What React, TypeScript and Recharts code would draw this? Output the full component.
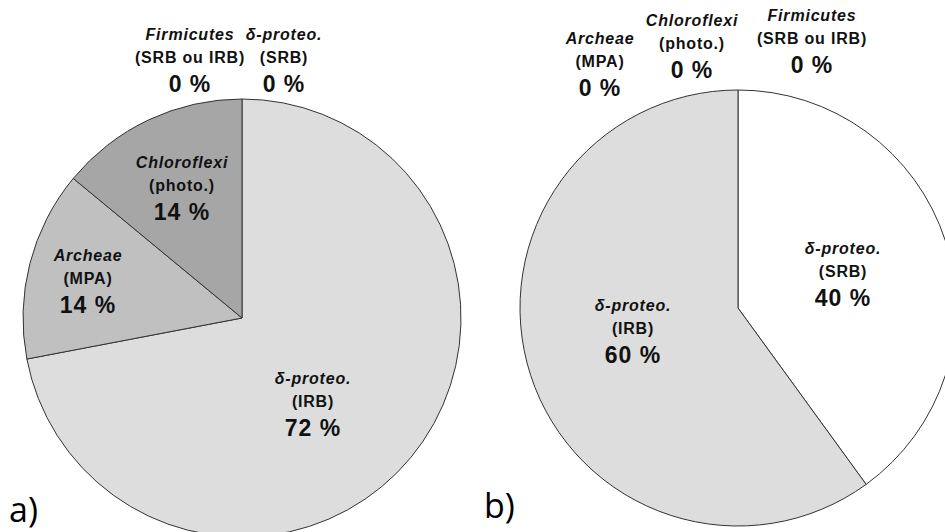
import { PieChart, Pie, Cell } from 'recharts'

// panel a)
const namesA = ['δ-proteo.', 'Archeae', 'Chloroflexi', 'Firmicutes', 'δ-proteo.']
const groupsA = ['(IRB)', '(MPA)', '(photo.)', '(SRB ou IRB)', '(SRB)']
const valuesA = [72, 14, 14, 0, 0]

// panel b)
const namesB = ['δ-proteo.', 'δ-proteo.', 'Archeae', 'Chloroflexi', 'Firmicutes']
const groupsB = ['(SRB)', '(IRB)', '(MPA)', '(photo.)', '(SRB ou IRB)']
const valuesB = [40, 60, 0, 0, 0]

const colorsA = ['#dcdddc', '#c0c0c0', '#a6a6a6', '#8c8c8c', '#ffffff']
const colorsB = ['#ffffff', '#dcdddc', '#c0c0c0', '#a6a6a6', '#8c8c8c']

// label anchor (centre of the name line) for each slice, by index
const labelPosA = [
  { x: 313, y: 378 },
  { x: 88, y: 255 },
  { x: 182, y: 162 },
  { x: 190, y: 34 },
  { x: 284, y: 34 },
]
const labelPosB = [
  { x: 843, y: 248 },
  { x: 633, y: 305 },
  { x: 600, y: 38 },
  { x: 692, y: 20 },
  { x: 812, y: 15 },
]

const dataA = valuesA.map((v, i) => ({ name: namesA[i], group: groupsA[i], value: v }))
const dataB = valuesB.map((v, i) => ({ name: namesB[i], group: groupsB[i], value: v }))

const font = '"Liberation Sans", Arial, sans-serif'

function makeLabel(pos: { x: number; y: number }[], data: typeof dataA) {
  return (props: any) => {
    const i = props.index
    const p = pos[i]
    const d = data[i]
    return (
      <g key={'lbl' + i}>
        <text x={p.x} y={p.y} textAnchor="middle" dominantBaseline="central" fontFamily={font}
          fontSize={16} fontWeight="bold" fontStyle="italic" letterSpacing={0.8} fill="#111">
          {d.name}
        </text>
        <text x={p.x} y={p.y + 23} textAnchor="middle" dominantBaseline="central" fontFamily={font}
          fontSize={16} fontWeight="bold" letterSpacing={0.8} fill="#111">
          {d.group}
        </text>
        <text x={p.x} y={p.y + 50} textAnchor="middle" dominantBaseline="central" fontFamily={font}
          fontSize={23} fontWeight="bold" letterSpacing={1} fill="#111">
          {d.value + ' %'}
        </text>
      </g>
    )
  }
}

export default function App() {
  return (
    <div style={{ position: 'absolute', left: 0, top: 0, width: 945, height: 532, background: '#fff' }}>
      <PieChart width={945} height={532} margin={{ top: 0, right: 0, bottom: 0, left: 0 }}>
        <Pie
          data={dataA}
          dataKey="value"
          cx={242}
          cy={318}
          outerRadius={219}
          startAngle={90}
          endAngle={-270}
          stroke="#333"
          strokeWidth={1}
          label={makeLabel(labelPosA, dataA)}
          labelLine={false}
          isAnimationActive={false}
        >
          {dataA.map((d, i) => <Cell key={i} fill={colorsA[i]} />)}
        </Pie>
        <Pie
          data={dataB}
          dataKey="value"
          cx={738}
          cy={308}
          outerRadius={218}
          startAngle={90}
          endAngle={-270}
          stroke="#333"
          strokeWidth={1}
          label={makeLabel(labelPosB, dataB)}
          labelLine={false}
          isAnimationActive={false}
        >
          {dataB.map((d, i) => <Cell key={i} fill={colorsB[i]} />)}
        </Pie>
        <text x={9} y={509} dominantBaseline="central" fontFamily='"Open Sans", sans-serif' fontSize={34} fill="#000">a)</text>
        <text x={484} y={505} dominantBaseline="central" fontFamily='"Open Sans", sans-serif' fontSize={34} fill="#000">b)</text>
      </PieChart>
    </div>
  )
}
